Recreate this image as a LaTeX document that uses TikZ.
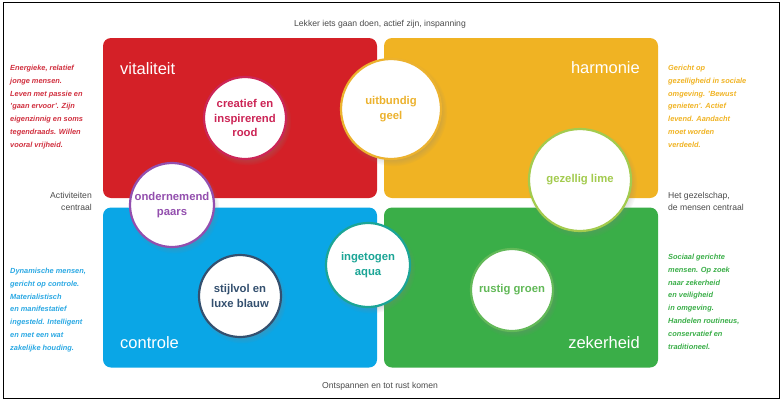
\documentclass[tikz,border=0pt]{standalone}
\usepackage{fontspec}
\setmainfont{Liberation Sans}
\usetikzlibrary{shapes,shadows}

\definecolor{vitred}{HTML}{D42027}
\definecolor{harmyellow}{HTML}{F0B323}
\definecolor{ctrlblue}{HTML}{0AA6E6}
\definecolor{zekgreen}{HTML}{3AAE48}
\definecolor{roodc}{HTML}{CC2556}
\definecolor{geelc}{HTML}{ECB22E}
\definecolor{limec}{HTML}{A3CB4E}
\definecolor{paarsc}{HTML}{934FAE}
\definecolor{blauwc}{HTML}{34506F}
\definecolor{aquac}{HTML}{1BA596}
\definecolor{groenc}{HTML}{62B958}
\definecolor{sidered}{HTML}{D0303F}
\definecolor{sideblue}{HTML}{2AA8E3}
\definecolor{axisgray}{HTML}{4A4A4A}

\begin{document}
\begin{tikzpicture}[x=1pt,y=-1pt,
    quadrant/.style={rounded corners=8pt,minimum width=274pt,minimum height=160pt,inner sep=0pt},
    quadtitle/.style={text=white,font=\fontsize{16.5}{18}\selectfont,inner sep=0pt},
    colour/.style={circle,fill=white,draw=#1,text=#1,line width=2.2pt,inner sep=0pt,align=center,
        font=\bfseries\fontsize{11.3}{14.5}\selectfont,
        circular drop shadow={opacity=0.3,shadow scale=1.08,shadow xshift=2pt,shadow yshift=-3pt}},
    side/.style={inner sep=0pt,align=left,anchor=north west,text=#1,
        font=\bfseries\itshape\fontsize{7.4}{12.8}\selectfont},
    axis/.style={inner sep=0pt,text=axisgray,font=\fontsize{8.6}{12}\selectfont}]
    \useasboundingbox (0,0) rectangle (782,402);
    \draw [line width=1pt] (3,2) rectangle (779,398);% frame

    % the four quadrants
    \foreach \name/\x/\y/\col in {vitaliteit/240/118/vitred,harmonie/521/118/harmyellow,
        controle/240/287.5/ctrlblue,zekerheid/521/287.5/zekgreen}{%
        \node [quadrant,fill=\col] (\name) at (\x,\y) {};
    }
    \node [quadtitle,anchor=base west] (vitT) at (120,74)  {vitaliteit};
    \node [quadtitle,anchor=base east] (harT) at (640,73)  {harmonie};
    \node [quadtitle,anchor=base west] (conT) at (120,348) {controle};
    \node [quadtitle,anchor=base east] (zekT) at (640,348) {zekerheid};

    % axis texts
    \node [axis] (top)    at (380,24)  {Lekker iets gaan doen, actief zijn, inspanning};
    \node [axis] (bottom) at (380,386) {Ontspannen en tot rust komen};
    \node [axis,align=right,anchor=east] (left)  at (92,201)  {Activiteiten\\centraal};
    \node [axis,align=left,anchor=west]  (right) at (668,201) {Het gezelschap,\\de mensen centraal};

    % descriptions
    \node [side=sidered] (descR) at (10,65) {Energieke, relatief\\jonge mensen.\\Leven met passie en\\'gaan ervoor'. Zijn\\eigenzinnig en soms\\tegendraads. Willen\\vooral vrijheid.};
    \node [side=harmyellow] (descY) at (668,65) {Gericht op\\gezelligheid in sociale\\omgeving. 'Bewust\\genieten'. Actief\\levend. Aandacht\\moet worden\\verdeeld.};
    \node [side=sideblue] (descB) at (10,268) {Dynamische mensen,\\gericht op controle.\\Materialistisch\\en manifestatief\\ingesteld. Intelligent\\en met een wat\\zakelijke houding.};
    \node [side=zekgreen] (descG) at (668,254) {Sociaal gerichte\\mensen. Op zoek\\naar zekerheid\\en veiligheid\\in omgeving.\\Handelen routineus,\\conservatief en\\traditioneel.};

    % the colour circles
    \node [colour=roodc,minimum size=82pt]   (rood)  at (245,118) {creatief en\\inspirerend\\rood};
    \node [colour=geelc,minimum size=100pt]  (geel)  at (391,109) {uitbundig\\geel};
    \node [colour=limec,minimum size=102pt]  (lime)  at (580,180) {gezellig lime};
    \node [colour=paarsc,minimum size=84pt]  (paars) at (172,205) {ondernemend\\paars};
    \node [colour=blauwc,minimum size=82pt]  (blauw) at (240,296) {stijlvol en\\luxe blauw};
    \node [colour=aquac,minimum size=84pt]   (aqua)  at (368,265) {ingetogen\\aqua};
    \node [colour=groenc,minimum size=82pt]  (groen) at (512,290) {rustig groen};
\end{tikzpicture}
\end{document}
